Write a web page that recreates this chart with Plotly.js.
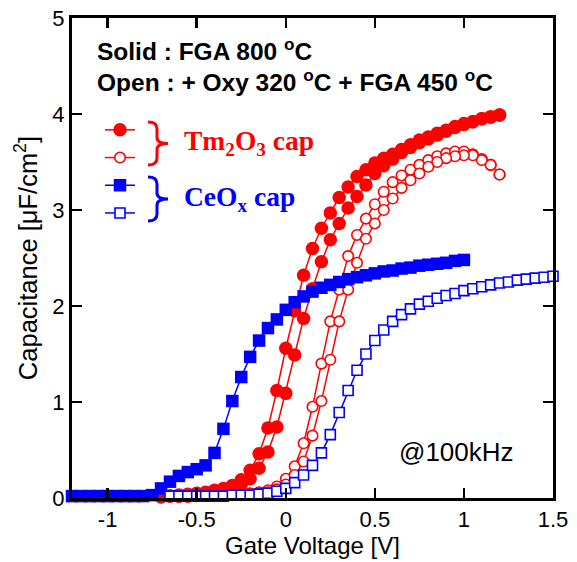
<!DOCTYPE html>
<html>
<head>
<meta charset="utf-8">
<script src="https://cdn.plot.ly/plotly-3.0.1.min.js"></script>
<style>html,body{margin:0;padding:0;background:#fff;}#chart{width:577px;height:562px;}</style>
</head>
<body>
<div id="chart"></div>
<script>
// ---- Data (Gate voltage [V] vs capacitance [uF/cm^2]) ----
// Tm2O3 cap, solid (FGA 800 C): two sweep branches on the same voltage grid
const tmSolidV = [-0.7,-0.65,-0.6,-0.55,-0.5,-0.45,-0.4,-0.35,-0.3,-0.25,-0.2,-0.15,-0.1,-0.05,0,0.05,0.1,0.15,0.2,0.25,0.3,0.35,0.4,0.45,0.5,0.55,0.6,0.65,0.7,0.75,0.8,0.85,0.9,0.95,1.0,1.05,1.1,1.15,1.2];
const tmSolidUp = [0.02,0.02,0.03,0.04,0.05,0.06,0.08,0.10,0.13,0.19,0.29,0.46,0.73,1.12,1.56,1.95,2.32,2.60,2.81,2.97,3.13,3.24,3.35,3.42,3.49,3.54,3.58,3.63,3.68,3.73,3.76,3.80,3.83,3.87,3.90,3.92,3.95,3.97,3.99];
const tmSolidDown = [0.01,0.02,0.02,0.03,0.04,0.05,0.06,0.08,0.10,0.14,0.20,0.31,0.48,0.74,1.09,1.49,1.87,2.18,2.46,2.69,2.86,3.02,3.14,3.26,3.38,3.46,3.53,3.60,3.65,3.70,3.74,3.78,3.82,3.86,3.89,3.92,3.95,3.97,3.99];

// Tm2O3 cap, open (+Oxy 320 C + FGA 450 C)
const tmOpenV = [-0.6,-0.55,-0.5,-0.45,-0.4,-0.35,-0.3,-0.25,-0.2,-0.15,-0.1,-0.05,0,0.05,0.1,0.15,0.2,0.25,0.3,0.35,0.4,0.45,0.5,0.55,0.6,0.65,0.7,0.75,0.8,0.85,0.9,0.95,1.0,1.05,1.1,1.15,1.2];
const tmOpenUp = [0.02,0.02,0.02,0.03,0.03,0.03,0.04,0.04,0.05,0.06,0.08,0.12,0.20,0.33,0.57,0.95,1.40,1.84,2.17,2.52,2.74,2.91,3.06,3.19,3.29,3.36,3.42,3.47,3.52,3.56,3.59,3.61,3.61,3.58,3.53,3.47,3.37];
const tmOpenDown = [0.01,0.01,0.02,0.02,0.02,0.03,0.03,0.03,0.04,0.05,0.06,0.09,0.14,0.24,0.38,0.65,1.01,1.44,1.84,2.17,2.45,2.70,2.86,3.00,3.12,3.23,3.31,3.38,3.45,3.50,3.54,3.56,3.57,3.57,3.52,3.47,3.37];

// CeOx cap, solid
const ceSolidV = [-1.2,-1.15,-1.1,-1.05,-1.0,-0.95,-0.9,-0.85,-0.8,-0.75,-0.7,-0.65,-0.6,-0.55,-0.5,-0.45,-0.4,-0.35,-0.3,-0.25,-0.2,-0.15,-0.1,-0.05,0,0.05,0.1,0.15,0.2,0.25,0.3,0.35,0.4,0.45,0.5,0.55,0.6,0.65,0.7,0.75,0.8,0.85,0.9,0.95,1.0];
const ceSolidC = [0.02,0.02,0.02,0.02,0.02,0.02,0.02,0.02,0.02,0.03,0.10,0.17,0.23,0.27,0.30,0.34,0.47,0.72,1.01,1.26,1.47,1.64,1.77,1.86,1.96,2.04,2.10,2.15,2.19,2.22,2.25,2.28,2.30,2.32,2.34,2.36,2.37,2.39,2.40,2.42,2.43,2.44,2.45,2.47,2.48];

// CeOx cap, open
const ceOpenV = [-0.65,-0.6,-0.55,-0.5,-0.45,-0.4,-0.35,-0.3,-0.25,-0.2,-0.15,-0.1,-0.05,0,0.05,0.1,0.15,0.2,0.25,0.3,0.35,0.4,0.45,0.5,0.55,0.6,0.65,0.7,0.75,0.8,0.85,0.9,0.95,1.0,1.05,1.1,1.15,1.2,1.25,1.3,1.35,1.4,1.45,1.5];
const ceOpenC = [0.02,0.02,0.02,0.02,0.02,0.02,0.02,0.03,0.03,0.03,0.04,0.05,0.07,0.10,0.16,0.24,0.34,0.47,0.66,0.89,1.12,1.33,1.50,1.64,1.75,1.84,1.91,1.97,2.02,2.05,2.08,2.11,2.13,2.16,2.18,2.20,2.22,2.24,2.25,2.27,2.28,2.29,2.30,2.31];

const xTicks = [-1, -0.5, 0, 0.5, 1, 1.5];
const xTickText = ['-1', '-0.5', '0', '0.5', '1', '1.5'];
const yTicks = [0, 1, 2, 3, 4, 5];

// ---- Build loops ----
function loop(v, up, down) {
  return { x: v.concat(v.slice().reverse()), y: up.concat(down.slice().reverse()) };
}
const tmS = loop(tmSolidV, tmSolidUp, tmSolidDown);
const tmO = loop(tmOpenV, tmOpenUp, tmOpenDown);

const RED = '#ff0000', BLUE = '#0000ff';
const traces = [
  { x: tmS.x, y: tmS.y, mode: 'lines+markers', name: ' ', cliponaxis: false,
    line: { color: RED, width: 1.5 },
    marker: { symbol: 'circle', size: 13.5, color: RED, line: { width: 0 } } },
  { x: tmO.x, y: tmO.y, mode: 'lines+markers', name: ' ', cliponaxis: false,
    line: { color: RED, width: 1.5 },
    marker: { symbol: 'circle', size: 10.5, color: '#ffffff', line: { color: RED, width: 1.6 } } },
  { x: ceSolidV, y: ceSolidC, mode: 'lines+markers', name: ' ', cliponaxis: false,
    line: { color: BLUE, width: 1.5 },
    marker: { symbol: 'square', size: 12.5, color: BLUE, line: { width: 0 } } },
  { x: ceOpenV, y: ceOpenC, mode: 'lines+markers', name: ' ', cliponaxis: false,
    line: { color: BLUE, width: 1.5 },
    marker: { symbol: 'square', size: 10, color: '#ffffff', line: { color: BLUE, width: 1.6 } } }
];

// pixel helpers for decorations (plot area 72..553 x 18..498)
const L = 72, R = 24, T = 18, B = 64, W = 577, H = 562;
const PW = W - L - R, PH = H - T - B;
const px = v => (v - L) / PW;
const py = v => (H - B - v) / PH;
function brace(xl, xm, xt, y0, y1) {
  const yc = (y0 + y1) / 2;
  const p = (a, b) => px(a).toFixed(4) + ',' + py(b).toFixed(4);
  return 'M' + p(xl, y0) + ' Q' + p(xm, y0) + ' ' + p(xm, y0 + 7) +
    ' L' + p(xm, yc - 6) + ' Q' + p(xm, yc) + ' ' + p(xt, yc) +
    ' Q' + p(xm, yc) + ' ' + p(xm, yc + 6) +
    ' L' + p(xm, y1 - 7) + ' Q' + p(xm, y1) + ' ' + p(xl, y1);
}

const FONT = 'Liberation Sans, Arial, sans-serif';
const SERIF = 'Liberation Serif, Times New Roman, serif';

const layout = {
  width: W, height: H,
  margin: { l: L, r: R, t: T, b: B, pad: 0 },
  paper_bgcolor: '#ffffff', plot_bgcolor: '#ffffff',
  font: { family: FONT, color: '#000', size: 22 },
  showlegend: true,
  legend: { x: px(100), y: py(111), xanchor: 'left', yanchor: 'top',
    bgcolor: 'rgba(0,0,0,0)', borderwidth: 0, tracegroupgap: 0,
    font: { size: 19, family: FONT }, itemsizing: 'trace' },
  xaxis: {
    range: [-1.2, 1.5], tickvals: xTicks, ticktext: xTickText,
    ticks: 'inside', ticklen: 10, tickwidth: 2.5, tickcolor: '#000',
    showline: true, linewidth: 3, linecolor: '#000', mirror: 'ticks',
    showgrid: false, zeroline: false,
    tickfont: { size: 22, family: FONT },
    title: { text: 'Gate Voltage [V]', font: { size: 24, family: FONT }, standoff: 5 }
  },
  yaxis: {
    range: [0, 5], tickvals: yTicks,
    ticks: 'inside', ticklen: 10, tickwidth: 2.5, tickcolor: '#000',
    showline: true, linewidth: 3, linecolor: '#000', mirror: 'ticks',
    showgrid: false, zeroline: false,
    tickfont: { size: 22, family: FONT },
    title: { text: 'Capacitance [μF/cm<sup>2</sup>]', font: { size: 25.5, family: FONT }, standoff: 8 }
  },
  shapes: [
    { type: 'path', xref: 'paper', yref: 'paper', path: brace(148, 157, 168, 122, 165),
      line: { color: RED, width: 3 } },
    { type: 'path', xref: 'paper', yref: 'paper', path: brace(148, 157, 168, 177, 221),
      line: { color: BLUE, width: 3 } }
  ],
  annotations: [
    { xref: 'paper', yref: 'paper', x: px(95), y: py(50), xanchor: 'left', yanchor: 'middle',
      showarrow: false, text: '<b>Solid : FGA 800 <sup>o</sup>C</b>', font: { size: 24.5, family: FONT, color: '#000' } },
    { xref: 'paper', yref: 'paper', x: px(95), y: py(80), xanchor: 'left', yanchor: 'middle',
      showarrow: false, text: '<b>Open : + Oxy 320 <sup>o</sup>C + FGA 450 <sup>o</sup>C</b>', font: { size: 24.5, family: FONT, color: '#000' } },
    { xref: 'paper', yref: 'paper', x: px(182), y: py(142), xanchor: 'left', yanchor: 'middle',
      showarrow: false, text: '<b>Tm<sub>2</sub>O<sub>3</sub> cap</b>', font: { size: 27.5, family: SERIF, color: RED } },
    { xref: 'paper', yref: 'paper', x: px(182), y: py(198), xanchor: 'left', yanchor: 'middle',
      showarrow: false, text: '<b>CeO<sub>x</sub> cap</b>', font: { size: 27.5, family: SERIF, color: BLUE } },
    { xref: 'paper', yref: 'paper', x: px(397), y: py(452), xanchor: 'left', yanchor: 'middle',
      showarrow: false, text: '@100kHz', font: { size: 26, family: FONT, color: '#000' } }
  ]
};

Plotly.newPlot('chart', traces, layout, { staticPlot: true, displayModeBar: false });
</script>
</body>
</html>
